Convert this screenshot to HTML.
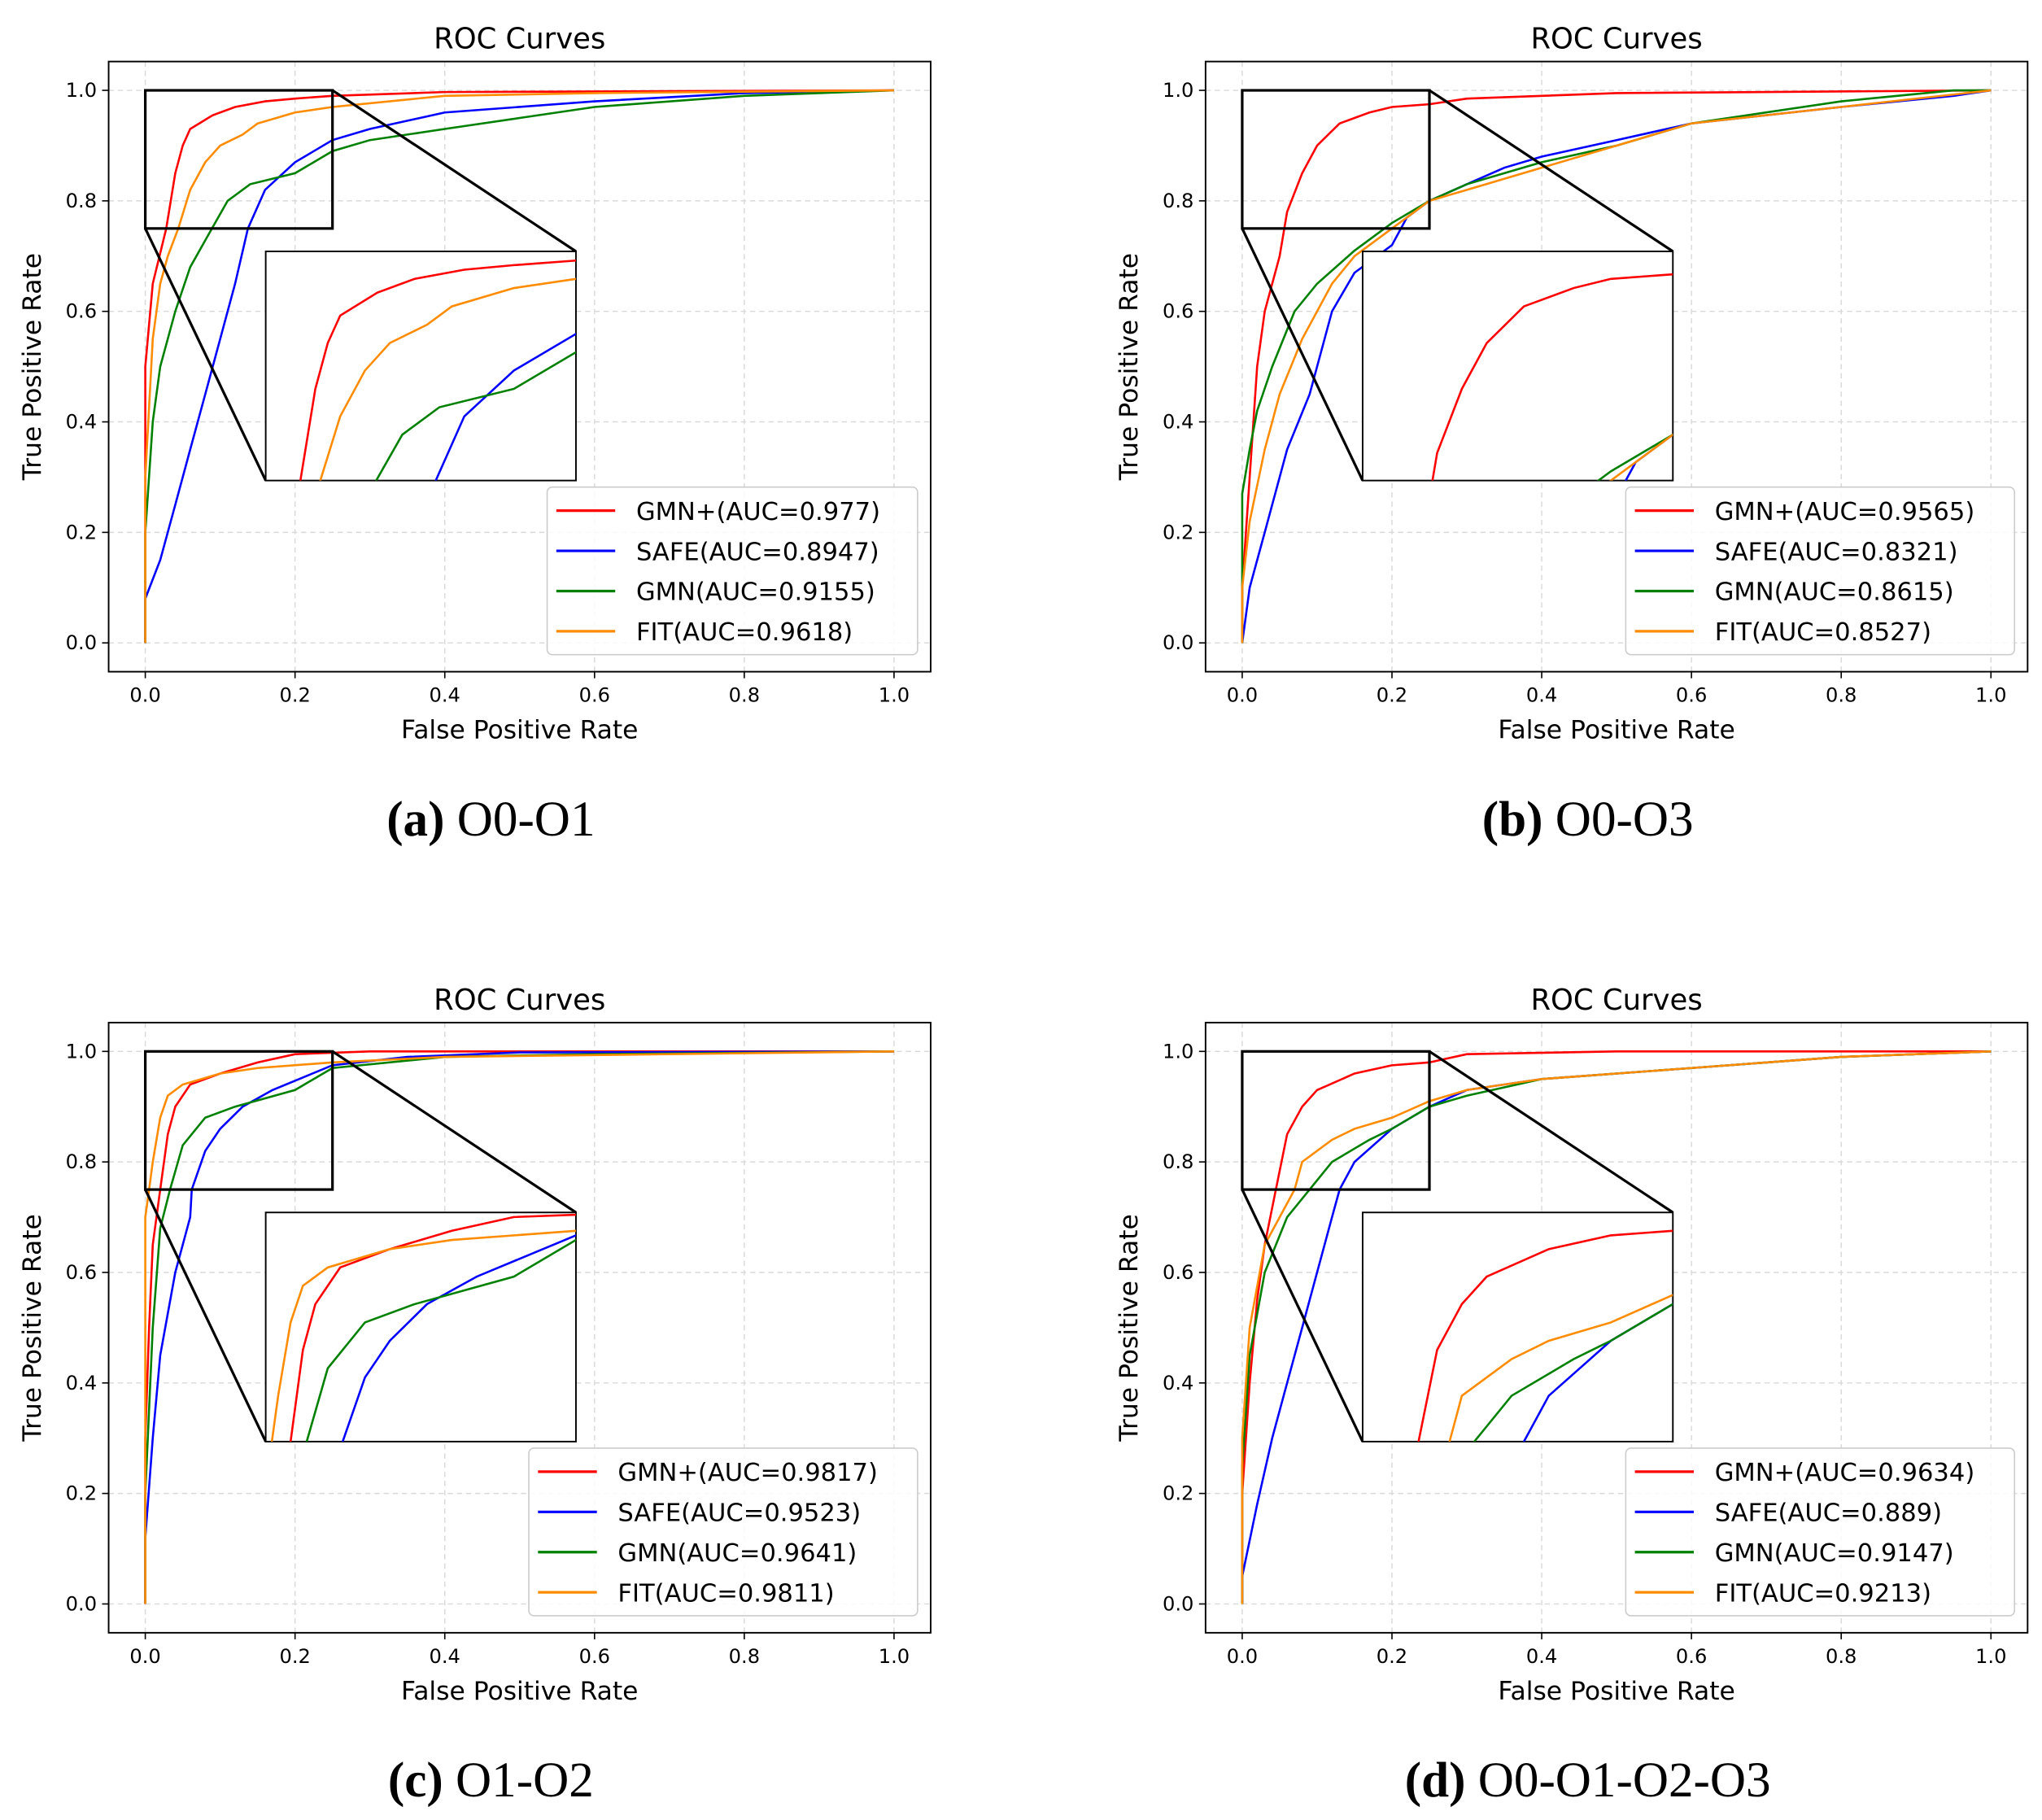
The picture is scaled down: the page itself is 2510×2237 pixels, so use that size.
<!DOCTYPE html>
<html><head><meta charset="utf-8"><style>
html,body{margin:0;padding:0;background:#fff;overflow:hidden;width:2510px;height:2237px}
svg{display:block;overflow:hidden}
text{font-family:"DejaVu Sans","Liberation Sans",sans-serif;fill:#000}
.cap{font-family:"Liberation Serif",serif}
</style></head><body>
<svg id="fig" width="2510" height="2237" viewBox="0 0 1560 1390" preserveAspectRatio="none" xmlns="http://www.w3.org/2000/svg"></svg>
<script>
const panelCaptions = [["(a)"," O0-O1"],["(b)"," O0-O3"],["(c)"," O1-O2"],["(d)"," O0-O1-O2-O3"]];
const seriesNames = ["GMN+","SAFE","GMN","FIT"];
const seriesColors = ["#ff0000","#0000ff","#008000","#ff8c00"];
const aucA = ["0.977","0.8947","0.9155","0.9618"];
const aucB = ["0.9565","0.8321","0.8615","0.8527"];
const aucC = ["0.9817","0.9523","0.9641","0.9811"];
const aucD = ["0.9634","0.889","0.9147","0.9213"];
const ticks = [0,0.2,0.4,0.6,0.8,1.0];
const tickLabels = ["0.0","0.2","0.4","0.6","0.8","1.0"];
// panel a
const aRed=[[0,0],[0,0.5],[0.01,0.65],[0.028,0.75],[0.04,0.85],[0.05,0.9],[0.06,0.93],[0.09,0.955],[0.12,0.97],[0.16,0.98],[0.2,0.985],[0.25,0.99],[0.4,0.997],[1,1]];
const aBlue=[[0,0],[0,0.08],[0.02,0.15],[0.04,0.25],[0.06,0.35],[0.08,0.45],[0.1,0.55],[0.12,0.65],[0.137,0.75],[0.16,0.82],[0.2,0.87],[0.25,0.91],[0.3,0.93],[0.4,0.96],[0.6,0.98],[0.8,0.995],[1,1]];
const aGreen=[[0,0],[0,0.2],[0.01,0.4],[0.02,0.5],[0.04,0.6],[0.06,0.68],[0.089,0.75],[0.11,0.8],[0.14,0.83],[0.2,0.85],[0.25,0.89],[0.3,0.91],[0.4,0.93],[0.5,0.95],[0.6,0.97],[0.8,0.99],[1,1]];
const aOrange=[[0,0],[0,0.3],[0.01,0.55],[0.02,0.65],[0.03,0.7],[0.044,0.75],[0.06,0.82],[0.08,0.87],[0.1,0.9],[0.13,0.92],[0.15,0.94],[0.2,0.96],[0.25,0.97],[0.4,0.99],[0.6,0.995],[1,1]];
// panel b
const bRed=[[0,0],[0,0.1],[0.01,0.3],[0.02,0.5],[0.03,0.6],[0.05,0.7],[0.06,0.78],[0.08,0.85],[0.1,0.9],[0.13,0.94],[0.17,0.96],[0.2,0.97],[0.25,0.975],[0.3,0.985],[0.5,0.995],[1,1]];
const bBlue=[[0,0],[0.01,0.1],[0.03,0.2],[0.06,0.35],[0.09,0.45],[0.12,0.6],[0.15,0.67],[0.2,0.72],[0.22,0.77],[0.25,0.8],[0.3,0.83],[0.35,0.86],[0.4,0.88],[0.5,0.91],[0.6,0.94],[0.8,0.97],[0.95,0.99],[1,1]];
const bGreen=[[0,0],[0,0.27],[0.01,0.35],[0.02,0.42],[0.04,0.5],[0.07,0.6],[0.1,0.65],[0.15,0.71],[0.2,0.76],[0.25,0.8],[0.3,0.83],[0.35,0.85],[0.4,0.87],[0.5,0.9],[0.6,0.94],[0.8,0.98],[0.95,1],[1,1]];
const bOrange=[[0,0],[0,0.1],[0.01,0.22],[0.03,0.35],[0.05,0.45],[0.08,0.55],[0.12,0.65],[0.15,0.7],[0.2,0.75],[0.25,0.8],[0.3,0.82],[0.4,0.86],[0.5,0.9],[0.6,0.94],[0.8,0.97],[1,1]];
// panel c
const cRed=[[0,0],[0,0.3],[0.005,0.5],[0.01,0.65],[0.02,0.75],[0.03,0.85],[0.04,0.9],[0.06,0.94],[0.1,0.96],[0.15,0.98],[0.2,0.995],[0.3,1],[1,1]];
const cBlue=[[0,0],[0,0.12],[0.01,0.3],[0.02,0.45],[0.04,0.6],[0.06,0.7],[0.062,0.75],[0.08,0.82],[0.1,0.86],[0.13,0.9],[0.17,0.93],[0.25,0.975],[0.35,0.99],[0.5,0.998],[1,1]];
const cGreen=[[0,0],[0,0.2],[0.01,0.5],[0.02,0.68],[0.033,0.75],[0.05,0.83],[0.08,0.88],[0.12,0.9],[0.2,0.93],[0.25,0.97],[0.4,0.99],[0.6,0.995],[1,1]];
const cOrange=[[0,0],[0,0.7],[0.005,0.75],[0.01,0.8],[0.02,0.88],[0.03,0.92],[0.05,0.94],[0.1,0.96],[0.15,0.97],[0.25,0.98],[0.4,0.99],[1,1]];
// panel d
const dRed=[[0,0],[0,0.2],[0.01,0.4],[0.02,0.55],[0.03,0.65],[0.045,0.75],[0.06,0.85],[0.08,0.9],[0.1,0.93],[0.15,0.96],[0.2,0.975],[0.25,0.98],[0.3,0.995],[0.5,1],[1,1]];
const dBlue=[[0,0],[0,0.05],[0.02,0.18],[0.04,0.3],[0.06,0.4],[0.08,0.5],[0.1,0.6],[0.12,0.7],[0.13,0.75],[0.15,0.8],[0.2,0.86],[0.25,0.9],[0.3,0.93],[0.4,0.95],[0.6,0.97],[0.8,0.99],[1,1]];
const dGreen=[[0,0],[0,0.25],[0.01,0.45],[0.03,0.6],[0.06,0.7],[0.09,0.75],[0.12,0.8],[0.17,0.84],[0.2,0.86],[0.25,0.9],[0.3,0.92],[0.4,0.95],[0.6,0.97],[0.8,0.99],[1,1]];
const dOrange=[[0,0],[0,0.3],[0.01,0.5],[0.03,0.65],[0.07,0.75],[0.08,0.8],[0.12,0.84],[0.15,0.86],[0.2,0.88],[0.25,0.91],[0.3,0.93],[0.4,0.95],[0.6,0.97],[0.8,0.99],[1,1]];

const panels=[
 {dx:0,dy:0,auc:aucA,s:[aRed,aBlue,aGreen,aOrange],lx:418},
 {dx:838,dy:0,auc:aucB,s:[bRed,bBlue,bGreen,bOrange],lx:404},
 {dx:0,dy:734,auc:aucC,s:[cRed,cBlue,cGreen,cOrange],lx:404},
 {dx:838,dy:734,auc:aucD,s:[dRed,dBlue,dGreen,dOrange],lx:404}];
const NS="http://www.w3.org/2000/svg";
const svg=document.getElementById('fig');
function mk(tag,attrs,parent,txt){const e=document.createElementNS(NS,tag);for(const k in attrs)e.setAttribute(k,attrs[k]);if(txt!==undefined)e.textContent=txt;parent.appendChild(e);return e;}
panels.forEach((p,pi)=>{
 const g=mk('g',{transform:`translate(${p.dx},${p.dy})`},svg);
 
 
 const X=v=>111+v*572, Y=v=>491-v*422;
 const IX=v=>203+v/0.25*237, IY=v=>367-(v-0.75)/0.25*175;
 ticks.forEach((t,i)=>{
  mk('line',{x1:X(t),x2:X(t),y1:47,y2:513,stroke:'#d9d9d9','stroke-width':0.9,'stroke-dasharray':'4,3'},g);
  mk('line',{x1:83,x2:711,y1:Y(t),y2:Y(t),stroke:'#d9d9d9','stroke-width':0.9,'stroke-dasharray':'4,3'},g);
  mk('line',{x1:X(t),x2:X(t),y1:513,y2:518,stroke:'#000','stroke-width':1},g);
  mk('line',{x1:78,x2:83,y1:Y(t),y2:Y(t),stroke:'#000','stroke-width':1},g);
  const xt=mk('text',{x:X(t),y:536,'font-size':15,'text-anchor':'middle'},g,tickLabels[i]);
  
  
  const yt=mk('text',{x:74,y:Y(t)+5,'font-size':15,'text-anchor':'end'},g,tickLabels[i]);
  
  
 });
 const cid='clip'+pi;
 const cp=mk('clipPath',{id:cid},g);mk('rect',{x:203,y:192,width:237,height:175},cp);
 p.s.forEach((pts,si)=>{
  const d=pts.map(q=>X(q[0]).toFixed(1)+','+Y(q[1]).toFixed(1)).join(' ');
  const l=mk('polyline',{points:d,fill:'none',stroke:seriesColors[si],'stroke-width':1.6},g);
  
  
 });
 mk('rect',{x:X(0),y:Y(1),width:X(0.25)-X(0),height:Y(0.75)-Y(1),fill:'none',stroke:'#000','stroke-width':2},g);
 mk('line',{x1:X(0.25),y1:Y(1),x2:440,y2:192,stroke:'#000','stroke-width':2},g);
 mk('line',{x1:X(0),y1:Y(0.75),x2:203,y2:367,stroke:'#000','stroke-width':2},g);
 const ins=mk('g',{},g);
 
 
 mk('rect',{x:203,y:192,width:237,height:175,fill:'#fff',stroke:'#000','stroke-width':1.2},ins);
 const ic=mk('g',{'clip-path':`url(#${cid})`},ins);
 p.s.forEach((pts,si)=>{
  const d=pts.map(q=>IX(q[0]).toFixed(1)+','+IY(q[1]).toFixed(1)).join(' ');
  const l=mk('polyline',{points:d,fill:'none',stroke:seriesColors[si],'stroke-width':1.6},ic);
  
  
 });
 mk('rect',{x:83,y:47,width:628,height:466,fill:'none',stroke:'#000','stroke-width':1.2},g);
 const lg=mk('g',{},g);
 
 
 mk('rect',{x:p.lx,y:372,width:701-p.lx,height:128,rx:4,fill:'#fff','fill-opacity':0.85,stroke:'#ccc','stroke-width':1},lg);
 seriesNames.forEach((n,si)=>{
  const yy=390+si*30.7;
  const e=mk('g',{},lg);
  
  
  mk('line',{x1:p.lx+7,x2:p.lx+52,y1:yy,y2:yy,stroke:seriesColors[si],'stroke-width':2},e);
  mk('text',{x:p.lx+68,y:yy+7,'font-size':19},e,`${n}(AUC=${p.auc[si]})`);
 });
 const t=mk('text',{x:397,y:37,'font-size':22,'text-anchor':'middle'},g,'ROC Curves');
 
 const xl=mk('text',{x:397,y:564,'font-size':19.5,'text-anchor':'middle'},g,'False Positive Rate');
 
 const yl=mk('text',{x:0,y:0,'font-size':19.5,'text-anchor':'middle',transform:'translate(31,280) rotate(-90)'},g,'True Positive Rate');
 
 const cap=mk('text',{x:375,y:638,'font-size':38,'text-anchor':'middle',class:'cap'},g);
 
 mk('tspan',{'font-weight':'bold'},cap,panelCaptions[pi][0]);
 mk('tspan',{},cap,panelCaptions[pi][1]);
});
</script>
</body></html>
